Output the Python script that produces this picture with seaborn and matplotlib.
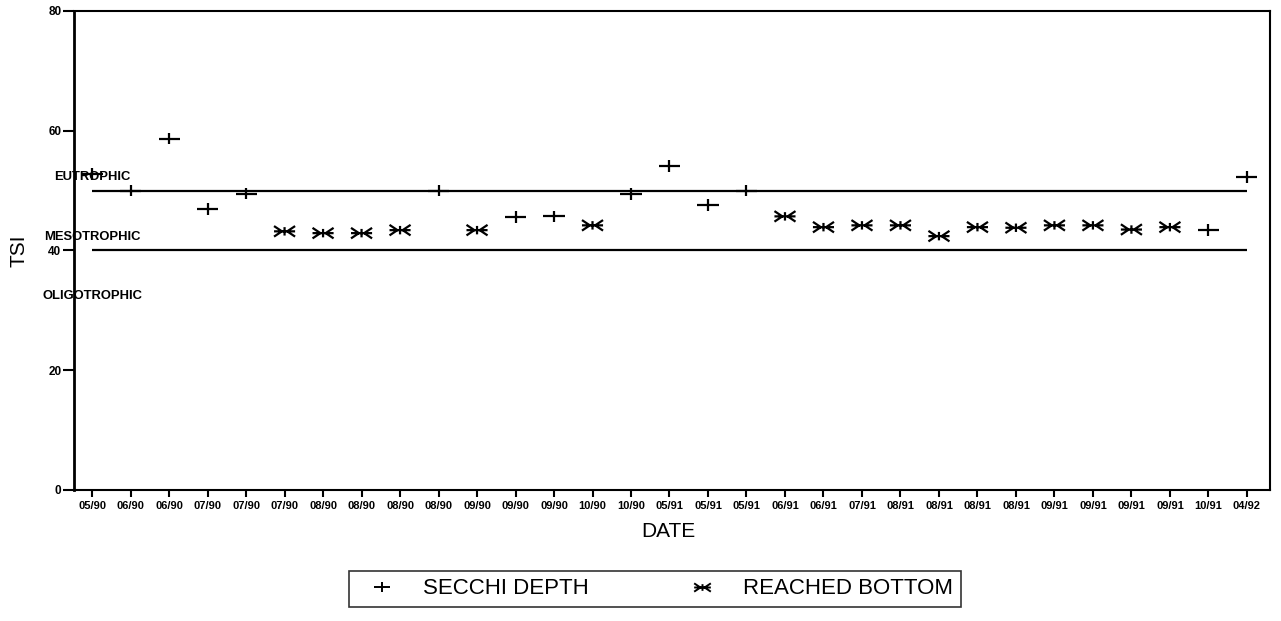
import numpy as np
import pandas as pd
import matplotlib
matplotlib.use("Agg")
import matplotlib.pyplot as plt
from matplotlib.path import Path
from matplotlib.lines import Line2D
import seaborn as sns

# ---------------- data ----------------
dates = ["05/90", "06/90", "06/90", "07/90", "07/90", "07/90", "08/90", "08/90", "08/90", "08/90",
         "09/90", "09/90", "09/90", "10/90", "10/90", "05/91", "05/91", "05/91", "06/91", "06/91",
         "07/91", "08/91", "08/91", "08/91", "08/91", "09/91", "09/91", "09/91", "09/91", "10/91",
         "04/92"]
tsi = [52.8, 50.0, 58.7, 46.9, 49.5, 43.2, 42.9, 42.9, 43.4, 50.0,
       43.4, 45.6, 45.7, 44.2, 49.4, 54.1, 47.6, 50.0, 45.7, 43.9,
       44.2, 44.2, 42.4, 43.9, 43.8, 44.2, 44.2, 43.5, 43.9, 43.4,
       52.3]
S, B = "SECCHI DEPTH", "REACHED BOTTOM"
kind = [S, S, S, S, S, B, B, B, B, S,
        B, S, S, B, S, S, S, S, B, B,
        B, B, B, B, B, B, B, B, B, S,
        S]
zone_names = ["EUTROPHIC", "MESOTROPHIC", "OLIGOTROPHIC"]
zone_label_tsi = [52.3, 42.2, 32.4]
zone_bounds = [50, 40]
y_ticks = [0, 20, 40, 60, 80]

df = pd.DataFrame({"pos": np.arange(len(dates)), "date": dates, "tsi": tsi, "kind": kind})

# ---------------- markers ----------------
plus_path = Path([(-1, 0), (1, 0), (0, -0.55), (0, 0.55)],
                 [Path.MOVETO, Path.LINETO, Path.MOVETO, Path.LINETO])
bot_path = Path([(-1, 0), (1, 0), (0, -0.4), (0, 0.4),
                 (-1, 0.5), (-0.25, 0), (-1, -0.5), (-0.25, 0),
                 (1, 0.5), (0.25, 0), (1, -0.5), (0.25, 0)],
                [Path.MOVETO, Path.LINETO] * 6)

sns.set_style("ticks")
plt.rcParams["font.family"] = ["Liberation Sans", "DejaVu Sans"]
plt.rcParams["text.color"] = "black"
plt.rcParams["axes.labelcolor"] = "black"
plt.rcParams["xtick.color"] = "black"
plt.rcParams["ytick.color"] = "black"

fig = plt.figure(figsize=(12.81, 6.21), dpi=100)
ax = fig.add_axes([74 / 1281, 1 - 490 / 621, (1270 - 74) / 1281, (490 - 11) / 621])

ax.hlines(zone_bounds, 0, len(dates) - 1, color="black", lw=1.6, zorder=1)

sns.scatterplot(data=df, x="pos", y="tsi", style="kind",
                markers={S: plus_path, B: bot_path},
                color="black", edgecolor="black", s=230, linewidth=1.6,
                legend=False, ax=ax, zorder=3)

for name, yv in zip(zone_names, zone_label_tsi):
    ax.text(0, yv, name, ha="center", va="center", fontsize=9.4,
            fontweight="bold", color="black", zorder=4)

ax.set_xlim(-0.47, 30.6)
ax.set_ylim(0, 80)
ax.set_xticks(df["pos"])
ax.set_xticklabels(dates, fontsize=8, fontweight="bold")
ax.set_yticks(y_ticks)
ax.set_yticklabels([str(v) for v in y_ticks], fontsize=8.5, fontweight="bold")
ax.tick_params(axis="x", length=5, width=1.5, pad=3, colors="black")
ax.tick_params(axis="y", length=8, width=1.5, pad=1, colors="black")

for side in ["left", "right", "top", "bottom"]:
    ax.spines[side].set_visible(True)
    ax.spines[side].set_color("black")
    ax.spines[side].set_linewidth(1.5)
ax.spines["left"].set_linewidth(2)

ax.set_xlabel("DATE", fontsize=15, color="black")
ax.set_ylabel("TSI", fontsize=15, color="black")
ax.xaxis.set_label_coords(0.497, -0.066)
ax.yaxis.set_label_coords(-0.038, 0.5)

handles = [Line2D([], [], ls="none", marker=plus_path, markersize=12, color="black",
                  markeredgewidth=1.4),
           Line2D([], [], ls="none", marker=bot_path, markersize=12, color="black",
                  markeredgewidth=1.4)]
leg = fig.legend(handles, [S, B], loc="center", bbox_to_anchor=(655 / 1281, 1 - 589 / 621),
                 ncol=2, frameon=True, fancybox=False, edgecolor="black", fontsize=16,
                 handlelength=2.2, handletextpad=0.75, columnspacing=4.0, borderpad=0.35,
                 borderaxespad=0)
leg.get_frame().set_linewidth(1.2)
for t in leg.get_texts():
    t.set_color("black")

fig.savefig("out.png", dpi=100, facecolor="white")
